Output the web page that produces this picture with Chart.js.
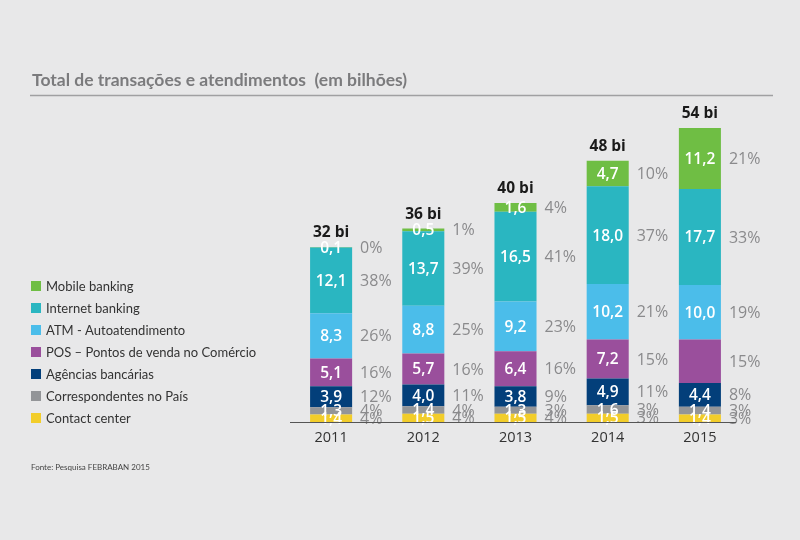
<!DOCTYPE html>
<html lang="pt-BR">
<head>
<meta charset="UTF-8">
<title>Total de transações e atendimentos</title>
<script src="https://cdn.jsdelivr.net/npm/chart.js"></script>
<style>
  html, body { margin: 0; padding: 0; background: #e8e8e9; }
  #wrap { width: 800px; height: 540px; }
</style>
</head>
<body>
<div id="wrap"><canvas id="chart" width="800" height="540"></canvas></div>
<script>
// values in billions
const years = ['2011', '2012', '2013', '2014', '2015']
const contactCenter = [1.4, 1.5, 1.5, 1.5, 1.4]
const correspondentes = [1.3, 1.4, 1.3, 1.6, 1.4]
const agencias = [3.9, 4.0, 3.8, 4.9, 4.4]
const pos = [5.1, 5.7, 6.4, 7.2, 8.0] // 2015 value has no label in the source
const atm = [8.3, 8.8, 9.2, 10.2, 10.0]
const internet = [12.1, 13.7, 16.5, 18.0, 17.7]
const mobile = [0.1, 0.5, 1.6, 4.7, 11.2]

const pctContact = ['4%', '4%', '4%', '3%', '3%']
const pctCorresp = ['4%', '4%', '3%', '3%', '3%']
const pctAgencias = ['12%', '11%', '9%', '11%', '8%']
const pctPos = ['16%', '16%', '16%', '15%', '15%']
const pctAtm = ['26%', '25%', '23%', '21%', '19%']
const pctInternet = ['38%', '39%', '41%', '37%', '33%']
const pctMobile = ['0%', '1%', '4%', '10%', '21%']

const totals = ['32 bi', '36 bi', '40 bi', '48 bi', '54 bi']

const FONT = '"Open Sans", "Noto Sans", sans-serif'
const TEXT_FONT = 'Lato, "Open Sans", sans-serif'

const series = [
  { label: 'Contact center', data: contactCenter, pct: pctContact, color: '#f2cd2a' },
  { label: 'Correspondentes no País', data: correspondentes, pct: pctCorresp, color: '#939598' },
  { label: 'Agências bancárias', data: agencias, pct: pctAgencias, color: '#033f7a' },
  { label: 'POS – Pontos de venda no Comércio', data: pos, pct: pctPos, color: '#9a4f9c', hide: [false, false, false, false, true] },
  { label: 'ATM - Autoatendimento', data: atm, pct: pctAtm, color: '#4bbdea' },
  { label: 'Internet banking', data: internet, pct: pctInternet, color: '#2ab6c1' },
  { label: 'Mobile banking', data: mobile, pct: pctMobile, color: '#6fbe44' }
]

// title, underline, legend and source note
const frame = {
  id: 'frame',
  beforeDraw(chart) {
    const ctx = chart.ctx
    ctx.save()
    ctx.fillStyle = '#e8e8e9'
    ctx.fillRect(0, 0, chart.width, chart.height)

    ctx.fillStyle = '#7b7b7d'
    ctx.font = 'bold 17.5px ' + TEXT_FONT
    ctx.textBaseline = 'middle'
    ctx.fillText('Total de transações e atendimentos  (em bilhões)', 32, 80)
    ctx.strokeStyle = '#a0a0a2'
    ctx.lineWidth = 1.5
    ctx.beginPath()
    ctx.moveTo(30, 95.5)
    ctx.lineTo(773, 95.5)
    ctx.stroke()

    // legend, top series first
    ctx.font = '13px ' + TEXT_FONT
    series.slice().reverse().forEach((s, i) => {
      const y = 286 + i * 22
      ctx.fillStyle = s.color
      ctx.fillRect(31, y - 5, 10, 10)
      ctx.fillStyle = '#333'
      ctx.fillText(s.label, 46, y + 1)
    })

    ctx.font = '8px ' + TEXT_FONT
    ctx.fillStyle = '#444'
    ctx.fillText('Fonte: Pesquisa FEBRABAN 2015', 31, 467)
    ctx.restore()
  },
  afterDatasetsDraw(chart) {
    const ctx = chart.ctx
    const area = chart.chartArea
    ctx.save()
    ctx.textBaseline = 'middle'
    chart.data.datasets.forEach((ds, i) => {
      const meta = chart.getDatasetMeta(i)
      meta.data.forEach((bar, j) => {
        const yMid = (bar.y + bar.base) / 2
        if (!(ds.hide && ds.hide[j])) {
          ctx.font = '600 15.5px ' + FONT
          ctx.fillStyle = '#fff'
          ctx.textAlign = 'center'
          ctx.fillText(ds.data[j].toFixed(1).replace('.', ','), bar.x, yMid + 1)
        }
        ctx.font = '500 16px ' + FONT
        ctx.fillStyle = '#8a8a8c'
        ctx.textAlign = 'left'
        ctx.fillText(ds.pct[j], bar.x + bar.width / 2 + 8, yMid + 1)
      })
    })
    // totals above the stacks
    const top = chart.getDatasetMeta(chart.data.datasets.length - 1)
    ctx.font = 'bold 15.5px ' + FONT
    ctx.fillStyle = '#1a1a1a'
    ctx.textAlign = 'center'
    top.data.forEach((bar, j) => {
      ctx.fillText(totals[j], bar.x, bar.y - 14)
    })
    // baseline
    ctx.strokeStyle = '#555'
    ctx.lineWidth = 1.2
    ctx.beginPath()
    ctx.moveTo(area.left + 5, area.bottom + 0.5)
    ctx.lineTo(area.right - 10, area.bottom + 0.5)
    ctx.stroke()
    ctx.restore()
  }
}

new Chart(document.getElementById('chart'), {
  type: 'bar',
  data: {
    labels: years,
    datasets: series.map((s) => ({
      label: s.label,
      data: s.data,
      pct: s.pct,
      hide: s.hide,
      backgroundColor: s.color,
      borderWidth: 0,
      barPercentage: 0.456,
      categoryPercentage: 1
    }))
  },
  options: {
    responsive: false,
    animation: false,
    layout: { padding: { left: 285, right: 54, top: 96, bottom: 90 } },
    plugins: {
      legend: { display: false },
      tooltip: { enabled: false }
    },
    scales: {
      x: {
        stacked: true,
        grid: { display: false, drawTicks: false },
        border: { display: false },
        ticks: { color: '#333', font: { family: FONT, size: 14.5 }, padding: 7 },
        afterFit: (scale) => { scale.height = 28 }
      },
      y: {
        stacked: true,
        display: false,
        min: 0,
        max: 60
      }
    }
  },
  plugins: [frame]
})
</script>
</body>
</html>
